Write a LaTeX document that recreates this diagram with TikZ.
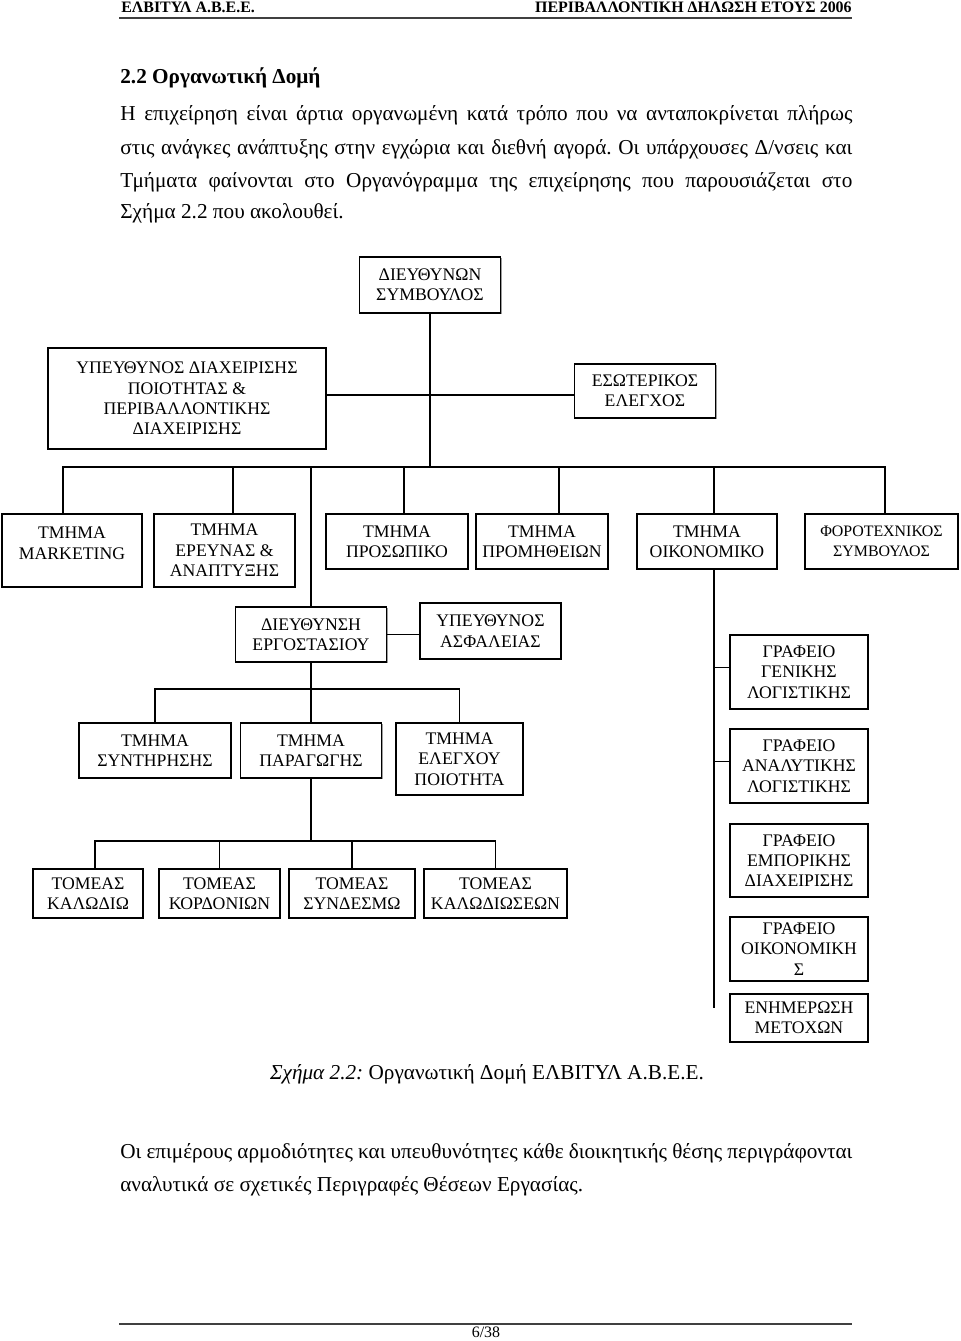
\documentclass[tikz,border=0pt]{standalone}
\usepackage{fontspec}
\setmainfont{Liberation Serif}
\usetikzlibrary{shadows}
\frenchspacing

\tikzset{
  box/.style={draw,line width=0.7pt,fill=white,align=center,inner sep=0pt,
    font=\fontsize{10}{11.5}\selectfont,
    drop shadow={shadow xshift=0.6pt,shadow yshift=-0.6pt,fill=black!55,opacity=0.7}},
  sz/.style 2 args={minimum width=#1*0.565pt,minimum height=#2*0.565pt},
  link/.style={line width=0.6pt},
  rule/.style={line width=0.9pt,black!75},
  hdr/.style={inner sep=0pt,font=\bfseries\fontsize{9}{10}\selectfont},
  line/.style={anchor=base west,inner sep=0pt,font=\fontsize{12}{14}\selectfont}
}

\begin{document}
\begin{tikzpicture}[x=0.565pt,y=-0.565pt]
	\useasboundingbox (0,0) rectangle (960,1341);
	\node[hdr,anchor=base west] (firm) at (121,12) {ΕΛΒΙΤΥΛ Α.Β.Ε.Ε.};
	\node[hdr,anchor=base east] (title) at (852,12) {ΠΕΡΙΒΑΛΛΟΝΤΙΚΗ ΔΗΛΩΣΗ ΕΤΟΥΣ 2006};
	\draw[rule] (119,18) -- (852,18);
	\node[line,font=\bfseries\fontsize{12}{14}\selectfont] (sec) at (120,83) {2.2 Οργανωτική Δομή};
	\node[line] (l1) at (120,120) {\makebox[413.6pt][s]{Η επιχείρηση είναι άρτια οργανωμένη κατά τρόπο που να ανταποκρίνεται πλήρως}};
	\node[line] (l2) at (120,154) {\makebox[413.6pt][s]{στις ανάγκες ανάπτυξης στην εγχώρια και διεθνή αγορά. Οι υπάρχουσες Δ/νσεις και}};
	\node[line] (l3) at (120,187) {\makebox[413.6pt][s]{Τμήματα φαίνονται στο Οργανόγραμμα της επιχείρησης που παρουσιάζεται στο}};
	\node[line] (l4) at (120,218) {Σχήμα 2.2 που ακολουθεί.};

	\node[box,sz={141}{56}] (ceo) at (430,285) {ΔΙΕΥΘΥΝΩΝ\\ΣΥΜΒΟΥΛΟΣ};
	\node[box,sz={278}{101}] (qual) at (187,398.5) {ΥΠΕΥΘΥΝΟΣ ΔΙΑΧΕΙΡΙΣΗΣ\\ΠΟΙΟΤΗΤΑΣ \&\\ΠΕΡΙΒΑΛΛΟΝΤΙΚΗΣ\\ΔΙΑΧΕΙΡΙΣΗΣ};
	\node[box,sz={141}{54}] (audit) at (645,391) {ΕΣΩΤΕΡΙΚΟΣ\\ΕΛΕΓΧΟΣ};
	\coordinate (hub) at (430,395);
	\coordinate (bus) at (430,467);

	\node[box,sz={140}{73},text depth=8.4pt] (mkt) at (72,550.5) {ΤΜΗΜΑ\\MARKETING};
	\node[box,sz={141}{73}] (rnd) at (224.5,550.5) {ΤΜΗΜΑ\\ΕΡΕΥΝΑΣ \&\\ΑΝΑΠΤΥΞΗΣ};
	\node[box,sz={142}{55}] (hr) at (397,541.5) {ΤΜΗΜΑ\\ΠΡΟΣΩΠΙΚΟ};
	\node[box,sz={132}{55}] (supply) at (542,541.5) {ΤΜΗΜΑ\\ΠΡΟΜΗΘΕΙΩΝ};
	\node[box,sz={140}{55}] (fin) at (707,541.5) {ΤΜΗΜΑ\\ΟΙΚΟΝΟΜΙΚΟ};
	\node[box,sz={153}{55},font=\fontsize{9}{11}\selectfont] (tax) at (881.5,541.5) {ΦΟΡΟΤΕΧΝΙΚΟΣ\\ΣΥΜΒΟΥΛΟΣ};

	\node[box,sz={151}{55}] (plant) at (311,634.5) {ΔΙΕΥΘΥΝΣΗ\\ΕΡΓΟΣΤΑΣΙΟΥ};
	\node[box,sz={141}{56}] (safety) at (490.5,631) {ΥΠΕΥΘΥΝΟΣ\\ΑΣΦΑΛΕΙΑΣ};
	\coordinate (bus2) at (311,689);
	\node[box,sz={152}{55}] (maint) at (155,750.5) {ΤΜΗΜΑ\\ΣΥΝΤΗΡΗΣΗΣ};
	\node[box,sz={141}{55}] (prod) at (311,750.5) {ΤΜΗΜΑ\\ΠΑΡΑΓΩΓΗΣ};
	\node[box,sz={127}{72}] (qc) at (459.5,759) {ΤΜΗΜΑ\\ΕΛΕΓΧΟΥ\\ΠΟΙΟΤΗΤΑ};
	\coordinate (bus3) at (311,841);
	\node[box,sz={110}{49}] (s1) at (88,893.5) {ΤΟΜΕΑΣ\\ΚΑΛΩΔΙΩ};
	\node[box,sz={121}{49}] (s2) at (219.5,893.5) {ΤΟΜΕΑΣ\\ΚΟΡΔΟΝΙΩΝ};
	\node[box,sz={126}{49}] (s3) at (352,893.5) {ΤΟΜΕΑΣ\\ΣΥΝΔΕΣΜΩ};
	\node[box,sz={143}{49}] (s4) at (495.5,893.5) {ΤΟΜΕΑΣ\\ΚΑΛΩΔΙΩΣΕΩΝ};

	\coordinate (finend) at (714,1008);
	\node[box,sz={138}{74}] (g1) at (799,672) {ΓΡΑΦΕΙΟ\\ΓΕΝΙΚΗΣ\\ΛΟΓΙΣΤΙΚΗΣ};
	\node[box,sz={138}{74}] (g2) at (799,766) {ΓΡΑΦΕΙΟ\\ΑΝΑΛΥΤΙΚΗΣ\\ΛΟΓΙΣΤΙΚΗΣ};
	\node[box,sz={138}{73}] (g3) at (799,860.5) {ΓΡΑΦΕΙΟ\\ΕΜΠΟΡΙΚΗΣ\\ΔΙΑΧΕΙΡΙΣΗΣ};
	\node[box,sz={138}{64}] (g4) at (799,949) {ΓΡΑΦΕΙΟ\\ΟΙΚΟΝΟΜΙΚΗ\\Σ};
	\node[box,sz={138}{48}] (g5) at (799,1018) {ΕΝΗΜΕΡΩΣΗ\\ΜΕΤΟΧΩΝ};

	\draw[link] (ceo.south) -- (bus);
	\draw[link] (qual.east |- hub) -- (audit.west |- hub);
	\foreach \n/\dx in {mkt/-9,rnd/8.5,hr/7,supply/17,fin/7,tax/3.5}
		\draw[link] ([xshift=\dx*0.565pt]\n.north) |- (bus);
	\draw[link] (plant.north) |- (bus);
	\draw[link] (plant.east) -- (plant.east -| safety.west);
	\draw[link] (plant.south) -- (prod.north);
	\draw[link] (maint.north) |- (bus2);
	\draw[link] (qc.north) |- (bus2);
	\draw[link] (prod.south) -- (bus3);
	\foreach \n/\dx in {s1/7,s2/0,s3/0,s4/0}
		\draw[link] ([xshift=\dx*0.565pt]\n.north) |- (bus3);
	\draw[link] (fin.south -| finend) -- (finend);
	\draw[link] ([yshift=2.8pt]g1.west) -| (finend);
	\draw[link] ([yshift=2.8pt]g2.west) -| (finend);

	\node[line,anchor=base] (cap) at (487,1079) {\textit{Σχήμα 2.2:} Οργανωτική Δομή ΕΛΒΙΤΥΛ Α.Β.Ε.Ε.};
	\node[line] (m1) at (120,1158) {\makebox[413.6pt][s]{Οι επιμέρους αρμοδιότητες και υπευθυνότητες κάθε διοικητικής θέσης περιγράφονται}};
	\node[line] (m2) at (120,1191) {αναλυτικά σε σχετικές Περιγραφές Θέσεων Εργασίας.};
	\draw[rule] (119,1324) -- (852,1324);
	\node[line,anchor=base,font=\fontsize{9}{10}\selectfont] (page) at (486,1337) {6/38};
\end{tikzpicture}
\end{document}
